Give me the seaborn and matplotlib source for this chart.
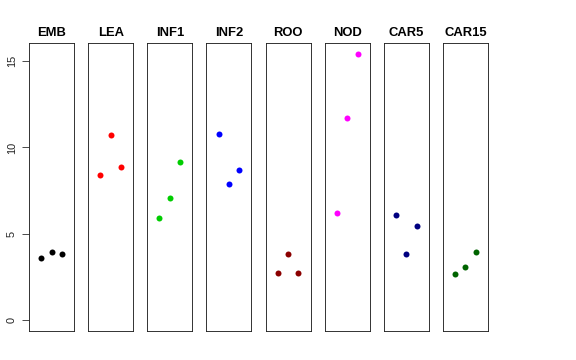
import matplotlib
matplotlib.use("Agg")
import matplotlib.pyplot as plt
import pandas as pd
import seaborn as sns

groups = ["EMB", "LEA", "INF1", "INF2", "ROO", "NOD", "CAR5", "CAR15"]
colors = ["black", "red", "#00CD00", "blue", "#8B0000", "magenta", "#000080", "#006400"]

emb = [3.61, 3.94, 3.84]
lea = [8.38, 10.71, 8.86]
inf1 = [5.91, 7.08, 9.15]
inf2 = [10.77, 7.91, 8.69]
roo = [2.72, 3.84, 2.72]
nod = [6.18, 11.70, 15.42]
car5 = [6.08, 3.82, 5.48]
car15 = [2.70, 3.11, 3.96]

values = [emb, lea, inf1, inf2, roo, nod, car5, car15]
replicate = [1, 2, 3]
y_ticks = [0, 5, 10, 15]

rows = []
for g, vals in zip(groups, values):
    for r, v in zip(replicate, vals):
        rows.append({"group": g, "rep": r, "value": v})
df = pd.DataFrame(rows)

sns.set_style("white")
plt.rcParams["font.family"] = ["Liberation Sans", "DejaVu Sans"]

fig, axes = plt.subplots(1, len(groups), figsize=(8, 5), dpi=72, sharey=True)
fig.subplots_adjust(left=29 / 576, right=488 / 576, top=1 - 43 / 360,
                    bottom=1 - 331 / 360, wspace=0.314)

ymax = df["value"].max()
pad = ymax * 0.04
for ax, g, c in zip(axes, groups, colors):
    sub = df[df["group"] == g]
    sns.scatterplot(data=sub, x="rep", y="value", color=c, s=36,
                    linewidth=0, ax=ax, legend=False)
    ax.set_xlim(-0.16, 4.16)
    ax.set_ylim(0 - pad, ymax + pad)
    ax.set_xticks([])
    ax.set_xlabel("")
    ax.set_ylabel("")
    ax.set_title(g, fontsize=13, fontweight="bold", pad=7, color="black")
    for s in ax.spines.values():
        s.set_visible(True)
        s.set_color("#222222")
        s.set_linewidth(0.9)
    ax.tick_params(left=False, labelleft=False)

ax0 = axes[0]
ax0.set_yticks(y_ticks)
ax0.tick_params(axis="y", left=True, labelleft=True, length=7, width=0.8,
                color="#222222", pad=5, labelsize=11, labelcolor="#222222")
for lab in ax0.get_yticklabels():
    lab.set_rotation(90)
    lab.set_va("center")

fig.savefig("out.png", dpi=72)
